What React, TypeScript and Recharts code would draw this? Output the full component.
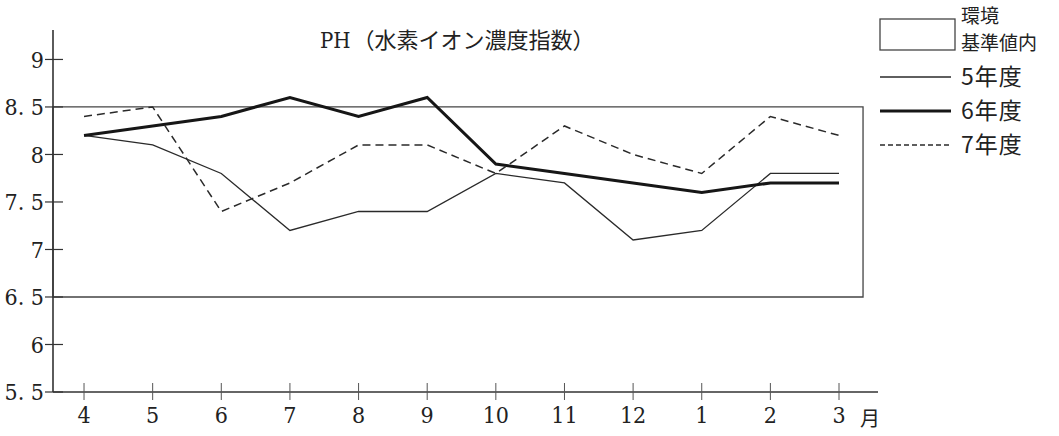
import React from 'react';
import { LineChart, Line, XAxis, YAxis, ReferenceArea } from 'recharts';

const months = ['4', '5', '6', '7', '8', '9', '10', '11', '12', '1', '2', '3'];
const fy5 = [8.2, 8.1, 7.8, 7.2, 7.4, 7.4, 7.8, 7.7, 7.1, 7.2, 7.8, 7.8];
const fy6 = [8.2, 8.3, 8.4, 8.6, 8.4, 8.6, 7.9, 7.8, 7.7, 7.6, 7.7, 7.7];
const fy7 = [8.4, 8.5, 7.4, 7.7, 8.1, 8.1, 7.8, 8.3, 8.0, 7.8, 8.4, 8.2];
const yTicks = [5.5, 6, 6.5, 7, 7.5, 8, 8.5, 9];
const yTickLabels = ['5. 5', '6', '6. 5', '7', '7. 5', '8', '8. 5', '9'];
const standardRange = [6.5, 8.5];
const title = 'PH（水素イオン濃度指数）';
const unitLabel = '月';
const standardLabel = ['環境', '基準値内'];
// x positions as month index (0 = April)
const xDomain = [-0.452, 11.568];
const boxXRange = [-0.452, 11.35];

const series = [
  { key: 'fy5', name: '5年度', width: 1.3, dash: undefined as string | undefined, color: '#2a2a2a' },
  { key: 'fy6', name: '6年度', width: 3, dash: undefined as string | undefined, color: '#161616' },
  { key: 'fy7', name: '7年度', width: 1.5, dash: '8 5', color: '#2a2a2a' },
];

const data = months.map((m, i) => ({ idx: i, month: m, fy5: fy5[i], fy6: fy6[i], fy7: fy7[i] }));
const xTicks = months.map((_, i) => i);

const numFont = '"DejaVu Serif Condensed", "Liberation Serif", serif';
const jpFont = '"Noto Sans CJK JP", sans-serif';

const YTick = (props: any) => {
  const { x, y, payload } = props;
  const idx = yTicks.indexOf(payload.value);
  return (
    <g>
      <line x1={x - 8} x2={x + 10} y1={y} y2={y} stroke="#333" strokeWidth={1.2} />
      <text x={x - 9} y={y} dy="0.36em" textAnchor="end" fontFamily={numFont} fontSize={23} fill="#222">
        {idx >= 0 ? yTickLabels[idx] : payload.value}
      </text>
    </g>
  );
};

const XTick = (props: any) => {
  const { x, y, payload } = props;
  return (
    <g>
      <line x1={x} x2={x} y1={y - 9} y2={y + 8} stroke="#555" strokeWidth={1} />
      <text x={x} y={y + 31} textAnchor="middle" fontFamily={numFont} fontSize={23} fill="#222">
        {months[payload.value]}
      </text>
    </g>
  );
};

export default function App() {
  return (
    <div style={{ position: 'absolute', left: 0, top: 0, width: 1059, height: 436, background: '#fff' }}>
      <LineChart width={1059} height={436} data={data} margin={{ top: 30, right: 181, bottom: 43, left: 52 }}>
        <XAxis
          dataKey="idx"
          type="number"
          domain={xDomain}
          allowDataOverflow
          ticks={xTicks}
          height={1}
          tickSize={0}
          tickMargin={0}
          tickLine={false}
          tick={<XTick />}
          axisLine={{ stroke: '#333', strokeWidth: 1.6 }}
          interval={0}
        />
        <YAxis
          width={1}
          type="number"
          domain={[5.5, 9.31]}
          allowDataOverflow
          ticks={yTicks}
          tickSize={0}
          tickMargin={0}
          tickLine={false}
          tick={<YTick />}
          axisLine={{ stroke: '#333', strokeWidth: 1.6 }}
          interval={0}
        />
        <ReferenceArea
          x1={boxXRange[0]}
          x2={boxXRange[1]}
          y1={standardRange[0]}
          y2={standardRange[1]}
          fill="none"
          fillOpacity={0}
          stroke="#444"
          strokeWidth={1.3}
          ifOverflow="visible"
        />
        {series.map((s) => (
          <Line
            key={s.key}
            type="linear"
            dataKey={s.key}
            name={s.name}
            stroke={s.color}
            strokeWidth={s.width}
            strokeDasharray={s.dash}
            dot={false}
            activeDot={false}
            isAnimationActive={false}
          />
        ))}
      </LineChart>
      <svg width={1059} height={436} style={{ position: 'absolute', left: 0, top: 0, pointerEvents: 'none' }}>
        <text x={320} y={48} fontSize={22} fill="#222">
          <tspan fontFamily={numFont}>PH</tspan>
          <tspan fontFamily={jpFont} dx={2}>{title.slice(2)}</tspan>
        </text>
        <text x={860} y={426} fontFamily={jpFont} fontSize={20} fill="#222">{unitLabel}</text>
        <rect x={880} y={19} width={75} height={31} fill="none" stroke="#444" strokeWidth={1.3} />
        <text x={961} y={23} fontFamily={jpFont} fontSize={19} fill="#222">{standardLabel[0]}</text>
        <text x={961} y={50} fontFamily={jpFont} fontSize={19} fill="#222">{standardLabel[1]}</text>
        {series.map((s, i) => {
          const cy = 77 + i * 34;
          return (
            <g key={s.key}>
              <line x1={880} x2={951} y1={cy} y2={cy} stroke={s.color} strokeWidth={s.width} strokeDasharray={s.dash ? '5 3' : undefined} />
              <text x={961} y={cy} dy="0.36em" fontFamily={jpFont} fontSize={23} letterSpacing={1} fill="#222">{s.name}</text>
            </g>
          );
        })}
      </svg>
    </div>
  );
}
